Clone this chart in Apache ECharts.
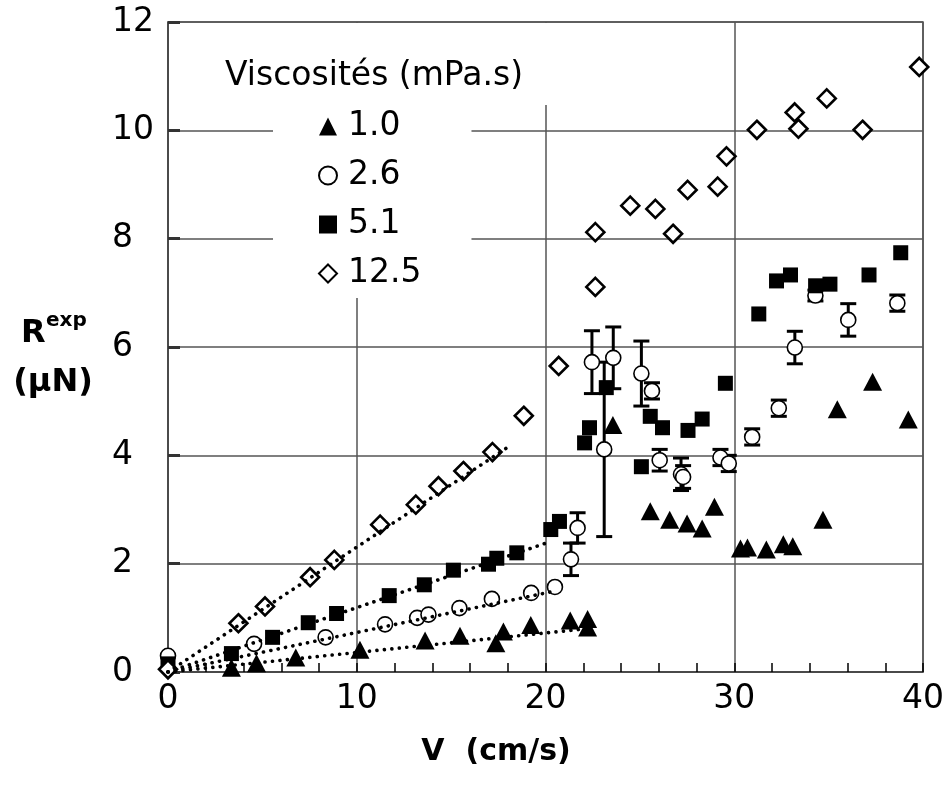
<!DOCTYPE html>
<html><head><meta charset="utf-8">
<script src="https://cdn.jsdelivr.net/npm/echarts@6/dist/echarts.min.js"></script>
<style>html,body{margin:0;padding:0;background:#fff}#c{width:952px;height:806px}</style>
</head><body><div id="c"></div>
<script>
// ---- data ----
const seriesNames = ['1.0', '2.6', '5.1', '12.5'];
const legendTitle = 'Viscosités (mPa.s)';
const xTitle = 'V  (cm/s)';

// viscosity 1.0 mPa.s (filled triangles)
const tri = [[3.36,0.08],[4.69,0.16],[6.77,0.27],[10.17,0.41],[13.62,0.58],[15.47,0.67],[17.37,0.53],[17.77,0.75],[19.22,0.87],[21.31,0.95],[22.23,0.98],[22.23,0.82],[23.57,4.56],[25.55,2.97],[26.58,2.81],[27.5,2.74],[28.3,2.65],[28.95,3.05],[30.33,2.28],[30.7,2.30],[31.7,2.26],[32.6,2.36],[33.1,2.32],[34.7,2.81],[35.46,4.85],[37.33,5.36],[39.22,4.66]];

// viscosity 2.6 mPa.s (open circles) : [V, R, error]
const circ = [[0,0.30,0],[4.56,0.52,0],[8.35,0.64,0],[11.5,0.88,0],[13.2,1.00,0],[13.8,1.06,0],[15.44,1.18,0],[17.16,1.35,0],[19.24,1.46,0],[20.5,1.57,0],[21.35,2.08,0.30],[21.7,2.66,0.28],[22.46,5.72,0.58],[23.11,4.11,1.61],[23.59,5.80,0.57],[25.08,5.51,0.60],[25.64,5.19,0.15],[26.05,3.91,0.20],[27.18,3.65,0.30],[27.29,3.60,0.21],[29.27,3.96,0.15],[29.71,3.85,0.15],[30.95,4.34,0.15],[32.36,4.87,0.15],[33.21,5.99,0.30],[34.3,6.95,0.10],[36.04,6.50,0.30],[38.64,6.81,0.15]];

// viscosity 5.1 mPa.s (filled squares)
const sq = [[0,0.15],[3.36,0.34],[5.54,0.64],[7.43,0.91],[8.93,1.08],[11.72,1.41],[13.58,1.61],[15.12,1.88],[16.98,1.99],[17.42,2.10],[18.48,2.20],[20.28,2.63],[20.74,2.78],[22.07,4.23],[22.33,4.51],[23.22,5.25],[25.08,3.79],[25.55,4.72],[26.2,4.51],[27.55,4.46],[28.3,4.67],[29.53,5.33],[31.3,6.61],[32.24,7.22],[32.98,7.33],[34.31,7.13],[35.07,7.16],[37.14,7.33],[38.82,7.74]];

// viscosity 12.5 mPa.s (open diamonds)
const dia = [[0,0.05],[3.73,0.90],[5.14,1.21],[7.53,1.75],[8.81,2.07],[11.24,2.72],[13.13,3.09],[14.33,3.43],[15.65,3.71],[17.19,4.06],[18.85,4.73],[20.7,5.65],[22.64,8.12],[22.64,7.11],[24.49,8.61],[25.82,8.55],[26.76,8.09],[27.53,8.90],[29.12,8.96],[29.59,9.52],[31.2,10.01],[33.2,10.33],[33.4,10.03],[34.9,10.59],[36.8,10.01],[39.8,11.17]];

// dotted linear fits (low-velocity regime)
const fitTri = [[0,0],[22.2,0.80]];
const fitCirc = [[0,0],[20.3,1.48]];
const fitSq = [[0,0],[20.2,2.40]];
const fitDia = [[0,0],[18.0,4.15]];

const xMin = 0, xMax = 40, xStep = 10;
const yMin = 0, yMax = 12, yStep = 2;

// ---- chart ----
const FONT = 'DejaVu Sans';
const chart = echarts.init(document.getElementById('c'), null, {renderer:'canvas'});
const fitStyle = {color:'#000', width:3.6, type:[0.1,7.4], cap:'round', opacity:1};
function fitSeries(d){
  return {type:'line', data:d, showSymbol:false, symbol:'none', silent:true, z:10,
    lineStyle:fitStyle, animation:false};
}
chart.setOption({
  animation:false,
  backgroundColor:'#fff',
  grid:{left:168, top:22, right:29, bottom:134, show:true, borderColor:'#555', borderWidth:1.5, containLabel:false},
  xAxis:{type:'value', min:xMin, max:xMax, interval:xStep,
    axisLine:{show:true, onZero:false, lineStyle:{color:'#444', width:1.5}},
    axisTick:{show:true, inside:true, length:9, lineStyle:{color:'#000', width:1.5}},
    minorTick:{show:true, splitNumber:5, length:9, lineStyle:{color:'#000', width:1.5}},
    axisLabel:{fontFamily:FONT, fontSize:33, color:'#000', margin:11},
    splitLine:{show:true, lineStyle:{color:'#555', width:1.5}}},
  yAxis:{type:'value', min:yMin, max:yMax, interval:yStep,
    axisLine:{show:true, lineStyle:{color:'#444', width:1.5}},
    axisTick:{show:true, inside:true, length:12, lineStyle:{color:'#333', width:3}},
    axisLabel:{fontFamily:FONT, fontSize:33, color:'#000', align:'left', margin:56},
    splitLine:{show:true, lineStyle:{color:'#555', width:1.5}}},
  legend:{show:true, orient:'vertical', left:273, top:102, data:seriesNames,
    itemWidth:18, itemHeight:18, itemGap:0, backgroundColor:'#fff',
    padding:[0,50,0,45], selectedMode:false, z:4,
    textStyle:{fontFamily:FONT, fontSize:33, color:'#000', lineHeight:49, padding:[0,0,0,6]}},
  graphic:[
    {type:'rect', z:3, shape:{x:215, y:23, width:333, height:82}, style:{fill:'#fff'}},
    {type:'text', z:5, style:{x:225, y:76, text:legendTitle, font:'33px "DejaVu Sans"', fill:'#000', textVerticalAlign:'middle'}},
    {type:'text', z:5, style:{x:496, y:752, text:xTitle, font:'bold 30px "DejaVu Sans"', fill:'#000', textAlign:'center', textVerticalAlign:'middle'}},
    {type:'text', z:5, style:{x:21, y:334, text:'R', font:'bold 32px "DejaVu Sans"', fill:'#000', textVerticalAlign:'middle'}},
    {type:'text', z:5, style:{x:46, y:321, text:'exp', font:'bold 20px "DejaVu Sans"', fill:'#000', textVerticalAlign:'middle'}},
    {type:'text', z:5, style:{x:53, y:383, text:'(μN)', font:'bold 32px "DejaVu Sans"', fill:'#000', textAlign:'center', textVerticalAlign:'middle'}}
  ],
  series:[
    {type:'custom', name:'errbars', z:3, silent:true, data:circ.filter(d=>d[2]>0), encode:{x:0,y:1},
      renderItem:function(params, api){
        const x=api.value(0), y=api.value(1), e=api.value(2);
        const t=api.coord([x,y+e]), b=api.coord([x,y-e]);
        const hw=8, st={stroke:'#000', lineWidth:3};
        return {type:'group', children:[
          {type:'line', shape:{x1:t[0],y1:t[1],x2:b[0],y2:b[1]}, style:st},
          {type:'line', shape:{x1:t[0]-hw,y1:t[1],x2:t[0]+hw,y2:t[1]}, style:st},
          {type:'line', shape:{x1:b[0]-hw,y1:b[1],x2:b[0]+hw,y2:b[1]}, style:st}
        ]};
      }},
    {type:'scatter', name:seriesNames[0], data:tri, symbol:'triangle', symbolSize:[19,18], z:4,
      itemStyle:{color:'#000', opacity:1}},
    {type:'scatter', name:seriesNames[1], data:circ.map(d=>[d[0],d[1]]), symbol:'circle', symbolSize:15, z:5,
      itemStyle:{color:'#fff', borderColor:'#000', borderWidth:1.6, opacity:1}},
    {type:'scatter', name:seriesNames[2], data:sq, symbol:'rect', symbolSize:15, z:6,
      itemStyle:{color:'#000', opacity:1}},
    {type:'scatter', name:seriesNames[3], data:dia, symbol:'diamond', symbolSize:[18,18], z:7,
      itemStyle:{color:'#fff', borderColor:'#000', borderWidth:2.6, opacity:1}},
    fitSeries(fitTri), fitSeries(fitCirc), fitSeries(fitSq), fitSeries(fitDia)
  ]
});
</script></body></html>
